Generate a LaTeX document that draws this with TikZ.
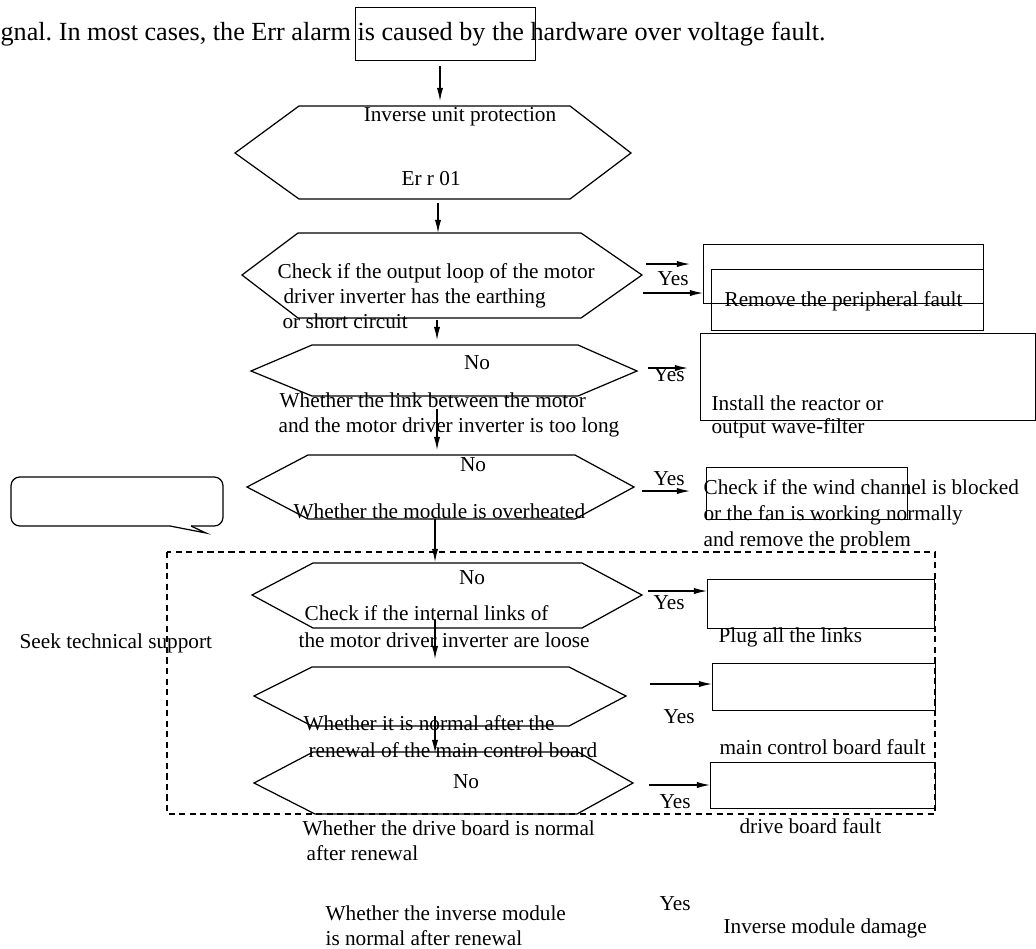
\documentclass[tikz,border=0pt]{standalone}
\usepackage{fontspec}
\setmainfont{Liberation Serif}
\frenchspacing
\usetikzlibrary{
    arrows.meta
}
\tikzset{
  every path/.style={
    black,
    line width=0.7pt
  },
  txt/.style={
    inner sep=0pt,
    anchor=base west,
    font=\fontsize{12.1}{14}\selectfont
  },
  ctxt/.style={
    txt,
    anchor=base
  },
  box/.style={
    draw,
    inner sep=0pt,
    anchor=north west
  },
  flow/.style={
    -{Latex[length=7.5pt,width=3.6pt]}
  }
}

\begin{document}
\begin{tikzpicture}[x=0.02cm,y=-0.02cm]
    \useasboundingbox (0,0) rectangle (1036,948);

    % 本文
    \node[txt,font=\fontsize{14.9}{17}\selectfont] (intro) at (0,40)
      {gnal. In most cases, the Err alarm is caused by the hardware over voltage fault.};
    \node[box,minimum width=3.6cm,minimum height=1.06cm] (topbox) at (355,7) {};

    % 六角形
    \draw (235,153) -- (299,106) -- (570,106) -- (631,153) -- (570,199) -- (299,199) -- cycle;
    \draw (242,275) -- (298,233) -- (581,233) -- (642,275) -- (581,318) -- (298,318) -- cycle;
    \draw (251,371) -- (312,345) -- (578,345) -- (637,371) -- (578,396) -- (312,396) -- cycle;
    \draw (247,487) -- (308,455) -- (575,455) -- (634,487) -- (575,519) -- (308,519) -- cycle;
    \draw (252,595) -- (313,563) -- (582,563) -- (642,595) -- (582,628) -- (313,628) -- cycle;
    \draw (254,696) -- (312,667) -- (569,667) -- (626,696) -- (569,726) -- (312,726) -- cycle;
    \draw (254,783) -- (313,752) -- (578,752) -- (633,783) -- (577,814) -- (315,814) -- cycle;

    % 右の枠
    \node[box,minimum width=5.6cm,minimum height=1.18cm] (fault) at (703,244) {};
    \node[box,minimum width=5.44cm,minimum height=1.22cm] (faultb) at (711,269) {};
    \node[box,minimum width=6.7cm,minimum height=1.74cm] (reactor) at (700,333) {};
    \node[box,minimum width=4.02cm,minimum height=1.04cm] (wind) at (706,467) {};
    \node[box,minimum width=4.54cm,minimum height=0.98cm] (links) at (707,579) {};
    \node[box,minimum width=4.46cm,minimum height=0.94cm] (mainbd) at (712,663) {};
    \node[box,minimum width=4.5cm,minimum height=0.92cm] (drivebd) at (710,762) {};

    % 吹き出しと点線
    \draw[rounded corners=5pt] (191,526) -- (223,526) -- (223,477) -- (11,477) -- (11,526) -- (170,526);
    \draw (170,526) -- (206,533) -- (191,526);
    \draw[dash pattern=on 3.5pt off 2.5pt] (167,552) rectangle (935,814);

    % 矢印の端
    \coordinate (a0) at (440,66);   \coordinate (a1) at (440,101);
    \coordinate (b0) at (438,203);  \coordinate (b1) at (438,233);
    \coordinate (c0) at (437,320);  \coordinate (c1) at (437,340);
    \coordinate (d0) at (437,409);  \coordinate (d1) at (437,450);
    \coordinate (e0) at (435,519);  \coordinate (e1) at (435,562);
    \coordinate (f0) at (435,620);  \coordinate (f1) at (435,659);
    \coordinate (g0) at (435,716);  \coordinate (g1) at (435,753);
    \coordinate (y1) at (646,264);  \coordinate (y1e) at (690,264);
    \coordinate (y2) at (643,293);
    \coordinate (y3) at (648,368);  \coordinate (y3e) at (688,368);
    \coordinate (y4) at (642,491);  \coordinate (y4e) at (690,491);
    \coordinate (y5) at (648,591);
    \coordinate (y6) at (650,684);
    \coordinate (y7) at (649,785);

    % 矢印
    \draw[flow] (a0) -- (a1);
    \draw[flow] (b0) -- (b1);
    \draw[flow] (c0) -- (c1);
    \draw[flow] (d0) -- (d1);
    \draw[flow] (e0) -- (e1);
    \draw[flow] (f0) -- (f1);
    \draw[flow] (g0) -- (g1);
    \draw[flow] (y1) -- (y1e);
    \draw[flow] (y2) -- (y2 -| fault.west);
    \draw[flow] (y3) -- (y3e);
    \draw[flow] (y4) -- (y4e);
    \draw[flow] (y5) -- (y5 -| links.west);
    \draw[flow] (y6) -- (y6 -| mainbd.west);
    \draw[flow] (y7) -- (y7 -| drivebd.west);

    % 文字
    \node[ctxt] (inv) at (460,121) {Inverse unit protection};
    \node[txt] (err) at (401,185) {Er r 01};
    \node[txt] (q1a) at (277,278) {Check if the output loop of the motor};
    \node[txt] (q1b) at (283,303) {driver inverter has the earthing};
    \node[txt] (q1c) at (282,328) {or short circuit};
    \node[ctxt] (no1) at (477,369) {No};
    \node[txt] (q2a) at (279,407) {Whether the link between the motor};
    \node[txt] (q2b) at (278,432) {and the motor driver inverter is too long};
    \node[ctxt] (no2) at (473,471) {No};
    \node[txt] (q3) at (293,518) {Whether the module is overheated};
    \node[ctxt] (no3) at (472,584) {No};
    \node[txt] (q4a) at (304,620) {Check if the internal links of};
    \node[txt] (q4b) at (298,647) {the motor driver inverter are loose};
    \node[txt] (q5a) at (303,730) {Whether it is normal after the};
    \node[txt] (q5b) at (308,757) {renewal of the main control board};
    \node[ctxt] (no4) at (466,788) {No};
    \node[txt] (q6a) at (302,835) {Whether the drive board is normal};
    \node[txt] (q6b) at (306,860) {after renewal};
    \node[txt] (q7a) at (325,920) {Whether the inverse module};
    \node[txt] (q7b) at (325,945) {is normal after renewal};

    \node[txt] (yes1) at (657,285) {Yes};
    \node[txt] (yes2) at (653,381) {Yes};
    \node[txt] (yes3) at (653,485) {Yes};
    \node[txt] (yes4) at (653,609) {Yes};
    \node[txt] (yes5) at (663,723) {Yes};
    \node[txt] (yes6) at (659,808) {Yes};
    \node[txt] (yes7) at (659,910) {Yes};

    \node[txt] (r1) at (724,306) {Remove the peripheral fault};
    \node[txt] (r2a) at (711,410) {Install the reactor or};
    \node[txt] (r2b) at (711,433) {output wave-filter};
    \node[txt] (r3a) at (703,494) {Check if the wind channel is blocked};
    \node[txt] (r3b) at (703,520) {or the fan is working normally};
    \node[txt] (r3c) at (703,546) {and remove the problem};
    \node[txt] (r4) at (718,642) {Plug all the links};
    \node[txt] (r5) at (719,754) {main control board fault};
    \node[txt] (r6) at (739,833) {drive board fault};
    \node[txt] (r7) at (723,933) {Inverse module damage};
    \node[txt] (seek) at (19,648) {Seek technical support};
\end{tikzpicture}
\end{document}
